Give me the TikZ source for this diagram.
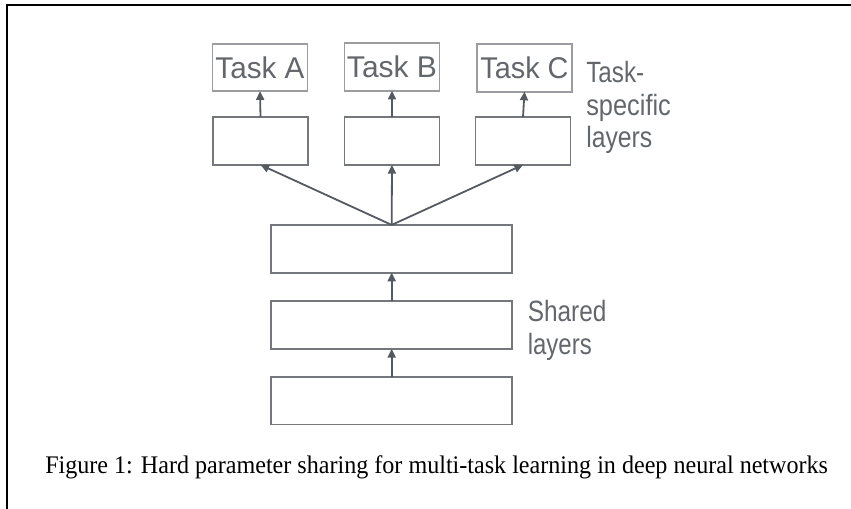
\documentclass[tikz,border=0pt]{standalone}
\usepackage{fontspec}
\setmainfont{Liberation Serif}
\newfontfamily\labfont{Liberation Sans}
\usetikzlibrary{arrows.meta}
\definecolor{txtgray}{HTML}{63676C}
\definecolor{boxgray}{HTML}{74777C}
\definecolor{taskgray}{HTML}{9A9CA0}
\definecolor{arrgray}{HTML}{555960}
\newcommand{\fitw}[2]{\resizebox{#1}{\height}{#2}}
\begin{document}
\begin{tikzpicture}[x=0.75pt,y=-0.75pt,
  layerbox/.style={draw=boxgray,line width=1.35pt,inner sep=0pt,outer sep=0pt,
    minimum width=71.25pt,minimum height=35.8pt},
  sharedbox/.style={layerbox,minimum width=181pt},
  taskbox/.style={draw=taskgray,line width=1.35pt,inner sep=0pt,outer sep=0pt,
    minimum width=71.25pt,minimum height=35.5pt,text=txtgray,
    font=\labfont\fontsize{22.5}{27}\selectfont},
  sidelabel/.style={anchor=north west,inner sep=0pt,align=left,text=txtgray,
    font=\labfont\fontsize{22}{24.4}\selectfont},
  uparrow/.style={draw=arrgray,line width=1.35pt,-{Triangle[length=6.5pt,width=6pt]}}]
\useasboundingbox (0,0) rectangle (851,509);
% frame
\draw[line width=1.5pt,black] (851,4.6) -- (6.6,4.6) -- (6.6,509);
% task output boxes
\node[taskbox] (TA) at (260,67.5) {\fitw{66.75pt}{Task A}};
\node[taskbox] (TB) at (392,67) {\fitw{67.5pt}{Task B}};
\node[taskbox] (TC) at (524.5,68) {\fitw{66pt}{Task C}};
% task-specific layers
\node[layerbox] (LA) at (260.5,141) {};
\node[layerbox] (LB) at (392,141) {};
\node[layerbox] (LC) at (523,141) {};
% shared layers
\node[sharedbox] (S1) at (391.7,248.8) {};
\node[sharedbox] (S2) at (391.7,325) {};
\node[sharedbox] (S3) at (391.7,400.7) {};
% arrows
\draw[uparrow] (LA.north) -- (TA.south);
\draw[uparrow] (LB.north) -- (TB.south);
\draw[uparrow] (LC.north) -- (TC.south);
\draw[uparrow] (S1.north) -- (LA.south);
\draw[uparrow] (S1.north) -- (LB.south);
\draw[uparrow] (S1.north) -- (LC.south);
\draw[uparrow] (S2.north) -- (S1.south);
\draw[uparrow] (S3.north) -- (S2.south);
% labels
\node[sidelabel] (tsl) at (586,61) {\fitw{43.5pt}{Task-}\\\fitw{63.5pt}{specific}\\\fitw{49.5pt}{layers}};
\node[sidelabel] (shl) at (527.5,300) {\fitw{59pt}{Shared}\\\fitw{48pt}{layers}};
% caption
\node[anchor=base west,inner sep=0pt,text=black,font=\fontsize{19}{22}\selectfont] (cap) at (45,473.3)
  {\fitw{587pt}{Figure 1: Hard parameter sharing for multi-task learning in deep neural networks}};
\end{tikzpicture}
\end{document}
